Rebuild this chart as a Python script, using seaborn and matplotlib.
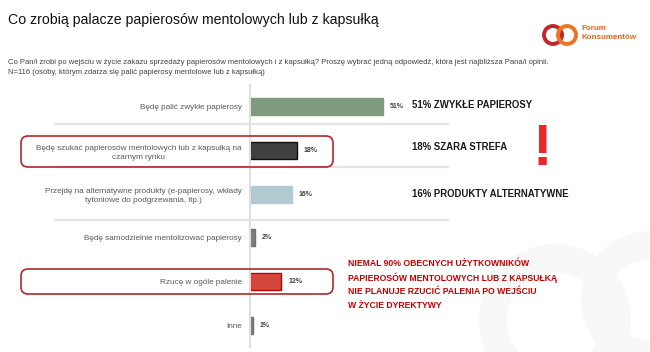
import matplotlib.pyplot as plt
import seaborn as sns
from matplotlib.patches import FancyBboxPatch, Circle
from matplotlib.lines import Line2D

answers = [
    'Będę palić zwykłe papierosy',
    'Będę szukać papierosów mentolowych lub z kapsułką na\nczarnym rynku',
    'Przejdę na alternatywne produkty (e-papierosy, wkłady\ntytoniowe do podgrzewania, itp.)',
    'Będę samodzielnie mentolizować papierosy',
    'Rzucę w ogóle palenie',
    'Inne',
]
shares = [51, 18, 16, 2, 12, 1]
bar_colors = ['#7a9f79', '#404040', '#aecbd7', '#7f7f7f', '#ee3124', '#7f7f7f']
edge_colors = ['#7a9f79', '#111111', '#aecbd7', '#6f6f6f', '#c00000', '#6f6f6f']
summary = ['51% ZWYKŁE PAPIEROSY', '18% SZARA STREFA', '16% PRODUKTY ALTERNATYWNE']
note = ('NIEMAL 90% OBECNYCH UŻYTKOWNIKÓW\n'
        'PAPIEROSÓW MENTOLOWYCH LUB Z KAPSUŁKĄ\n'
        'NIE PLANUJE RZUCIĆ PALENIA PO WEJŚCIU\n'
        'W ŻYCIE DYREKTYWY')
title = 'Co zrobią palacze papierosów mentolowych lub z kapsułką'
subtitle = ('Co Pan/i zrobi po wejściu w życie zakazu sprzedaży papierosów mentolowych i z kapsułką? '
            'Proszę wybrać jedną odpowiedź, która jest najbliższa Pana/i opinii.\n'
            'N=116 (osoby, którym zdarza się palić papierosy mentolowe lub z kapsułką)')

sns.set_theme(style='white')
plt.rcParams['font.family'] = ['Liberation Sans', 'DejaVu Sans']

W, H = 650, 352
fig = plt.figure(figsize=(W / 100, H / 100), dpi=100)
fig.patch.set_facecolor('white')


def fx(px):
    return px / W


def fy(py):
    return 1 - py / H


def inch(px, py):
    return px / 100, (H - py) / 100


# faint watermark of the logo in the lower right
for cx, cy, r in [(555, 320, 62), (650, 300, 55)]:
    fig.add_artist(Circle(inch(cx, cy), r / 100, transform=fig.dpi_scale_trans,
                          fill=False, ec='#f8f8f8', lw=20, zorder=0))

ax = fig.add_axes([fx(250), fy(347), fx(400), (347 - 85) / H])
ax.set_facecolor('none')
sns.barplot(x=shares, y=answers, hue=answers, palette=bar_colors, legend=False,
            orient='h', width=0.39, ax=ax)
for cont, ec, v in zip(ax.containers, edge_colors, shares):
    for p in cont:
        p.set_edgecolor(ec)
        p.set_linewidth(1.0)
    ax.bar_label(cont, labels=[f'{v}%'], padding=5, fontsize=5, fontweight='bold',
                 color='#404040')

ax.set_xlim(0, 400 / 2.61)
ax.set_ylim(5.5, -0.5)
ax.set_xticks([])
ax.set_xlabel('')
ax.set_ylabel('')
ax.tick_params(axis='y', length=0, pad=6, labelsize=5.9, labelcolor='#595959')
for lbl in ax.get_yticklabels():
    lbl.set_multialignment('center')
    lbl.set_linespacing(1.45)
for s in ['top', 'right', 'bottom']:
    ax.spines[s].set_visible(False)
ax.spines['left'].set_color('#dedede')
ax.spines['left'].set_linewidth(1.5)

# separators
for py in [124, 167, 220]:
    (x0, y0), (x1, _) = inch(55, py), inch(448, py)
    fig.add_artist(Line2D([x0, x1], [y0, y0], transform=fig.dpi_scale_trans,
                          color='#e3e3e3', lw=1.6, zorder=1))

# highlight boxes
for top, bottom in [(136, 167), (269, 294)]:
    x0, y0 = inch(21, bottom)
    fig.add_artist(FancyBboxPatch((x0, y0), (333 - 21) / 100, (bottom - top) / 100,
                                  boxstyle='round,pad=0,rounding_size=0.07',
                                  transform=fig.dpi_scale_trans, fill=False,
                                  ec='#b3262c', lw=1.2, zorder=3))

# titles
fig.text(fx(8), fy(20), title, fontsize=10.2, color='#111111', va='center', ha='left')
fig.text(fx(8), fy(67.5), subtitle, fontsize=5.5, color='#404040', va='center', ha='left',
         linespacing=1.55)

# logo
fig.add_artist(Circle(inch(553, 35), 0.09, transform=fig.dpi_scale_trans,
                      fill=False, ec='#c0272d', lw=2.8))
fig.add_artist(Circle(inch(567, 35), 0.09, transform=fig.dpi_scale_trans,
                      fill=False, ec='#ee7623', lw=2.8))
fig.text(fx(581), fy(33), 'Forum\nKonsumentów', fontsize=5.8, fontweight='bold',
         color='#e8641b', va='center', ha='left', linespacing=1.3)

# summary texts
for txt, py in zip(summary, [105, 147, 194]):
    fig.text(fx(412), fy(py), txt, fontsize=6.9, fontweight='bold', color='#1a1a1a',
             va='center', ha='left')
fig.text(fx(542), fy(150), '!', fontsize=42, fontweight='bold', color='#e8262b',
         va='center', ha='center')
fig.text(fx(348), fy(284), note, fontsize=6.2, fontweight='bold', color='#c00000',
         va='center', ha='left', linespacing=1.6)

fig.savefig('out.png', dpi=100)
